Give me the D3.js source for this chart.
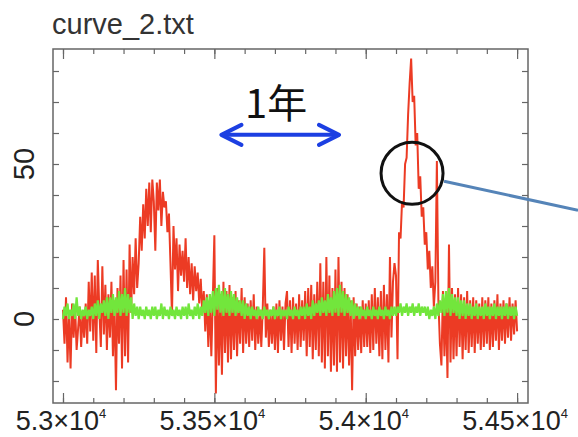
<!DOCTYPE html>
<html>
<head>
<meta charset="utf-8">
<script src="https://cdn.jsdelivr.net/npm/d3@7"></script>
<style>
  html, body { margin: 0; padding: 0; background: #fff; }
  svg { display: block; font-family: "Liberation Sans", Arial, sans-serif; }
</style>
</head>
<body>
<svg id="chart" width="578" height="437"></svg>
<script>
// Both curves are sampled every 5 days from MJD 53000
const startDay = 53000;
const stepDays = 5;

// red curve (10 samples per row = 50 days)
const redValues = [
    3, -8, 7, -14, 2, -16, 5, -6, 4, -10,
    -3, 4, -9, 2, -6, 5, -8, 12, -4, 15,
    -7, 14, -11, 19, 3, -9, 17, -5, 11, -10,
    8, -6, 12, -12, 6, -23, 10, -8, 14, -16,
    19, -12, 16, -14, 24, 2, 20, 8, 26, 10,
    18, 33, 22, 37, 26, 42, 30, 44, 28, 45,
    38, 22, 44, 35, 45, 30, 41, 36, 38, 28,
    34, 18, 1, 30, 16, 26, 9, 24, 14, 22,
    12, 26, 10, 20, 8, 18, 6, 17, 9, 15,
    5, 13, 2, 9, -4, 8, -9, 6, -12, 7,
    27, -24, 10, -15, 8, -18, 12, -11, 9, -14,
    11, -13, 7, -10, 9, -12, 6, -8, 10, -11,
    7, -8, 5, -9, 6, -7, 8, -10, 4, -8,
    3, -9, 4, 23, -6, 5, -9, 3, -8, 4,
    -10, 5, -11, 6, -7, 4, -10, 5, 9, -9,
    6, -11, 7, -8, 5, -10, 8, -9, 6, -7,
    9, -12, 10, -9, 11, -13, 8, -10, 12, -12,
    18, -14, 12, -16, 20, -12, 14, -17, 10, -15,
    16, -17, 20, -14, 12, -16, 10, -12, 8, -15,
    6, -23, 7, -12, 5, -10, 4, -11, 6, -9,
    5, -9, 6, -11, 8, -10, 10, -8, 7, -12,
    9, -13, 11, -10, 8, -14, 20, -6, 12, 18,
    14, -13, 28, 26, 38, 36, 50, 52, 66, 76,
    84, 70, 72, 56, 60, 42, 46, 33, 36, 24,
    28, 16, 22, 10, 17, 4, 12, 51, 6, -8,
    -15, 9, -12, 6, -19, 24, -14, 10, -13, 8,
    -12, 10, -9, 8, -13, 7, -10, 9, -11, 6,
    -9, 7, -11, 6, -8, 5, -10, 7, -9, 6,
    -8, 7, -10, 5, -9, 6, -7, 8, -10, 5,
    -7, 6, -8, 5, -6, 7, -7, 5, -5, 6,
    -4
];

// green curve, same sampling
const greenValues = [
    0, 4, 1, 5, 0, 3, 1, 5, 0, 7,
    1, 4, 0, 3, 1, 4, 0, 3, 1, 4,
    0, 5, 1, 6, 0, 5, 2, 6, 1, 7,
    0, 7, 2, 8, 1, 7, 2, 9, 1, 8,
    2, 10, 1, 8, 2, 7, 0, 5, 1, 4,
    0, 4, 1, 3, 0, 4, 1, 3, 0, 4,
    1, 4, 0, 3, 1, 5, 0, 4, 1, 3,
    0, 4, 1, 3, 0, 4, 1, 3, 0, 4,
    1, 4, 0, 5, 1, 3, 0, 4, 1, 5,
    0, 4, 1, 6, 2, 7, 1, 8, 2, 9,
    1, 10, 3, 11, 2, 9, 1, 10, 2, 8,
    1, 9, 2, 8, 1, 7, 2, 6, 1, 6,
    0, 5, 1, 4, 0, 4, 1, 3, 0, 4,
    1, 3, 0, 4, 1, 3, 0, 3, 1, 4,
    0, 3, 1, 4, 0, 3, 1, 3, 0, 4,
    1, 3, 0, 4, 1, 3, 0, 4, 1, 4,
    0, 5, 1, 4, 0, 6, 1, 5, 2, 6,
    1, 7, 2, 6, 1, 8, 2, 7, 1, 9,
    2, 10, 1, 11, 2, 9, 1, 8, 2, 7,
    1, 6, 0, 5, 1, 4, 0, 4, 1, 3,
    0, 4, 1, 3, 0, 4, 1, 3, 0, 4,
    1, 3, 0, 4, 1, 3, 0, 4, 1, 4,
    1, 4, 2, 5, 1, 4, 2, 5, 1, 4,
    2, 5, 1, 4, 2, 5, 1, 4, 2, 4,
    1, 4, 0, 3, 1, 4, 0, 5, 1, 6,
    2, 8, 1, 9, 2, 10, 1, 8, 2, 7,
    1, 7, 0, 6, 1, 6, 0, 5, 1, 5,
    0, 4, 1, 5, 0, 4, 1, 4, 0, 5,
    1, 4, 0, 4, 1, 5, 0, 4, 1, 4,
    0, 4, 1, 5, 0, 4, 1, 4, 0, 4,
    1
];

// axis ticks and labels
const xMajorTicks = [53000, 53500, 54000, 54500];
const xLabelMantissa = ["5.3", "5.35", "5.4", "5.45"];
const xLabelExponent = "4";
const yLabelTicks = [0, 50];
const titleText = "curve_2.txt";
const yearText = "1年";

// annotations in data units: one-year arrow and the circled peak
const yearArrow = { from: 53520, to: 53915, value: 59.4 };
const circleMark = { day: 54153, value: 47 };

// layout
const plot = { left: 53, top: 49, right: 528, bottom: 403 };

const svg = d3.select("#chart");

const x = d3.scaleLinear()
    .domain([52967, 54536])
    .range([plot.left, plot.right]);

const y = d3.scaleLinear()
    .domain([-27.1, 87.1])
    .range([plot.bottom, plot.top]);

const days = redValues.map((v, i) => startDay + i * stepDays);
const redData = redValues.map((v, i) => ({ day: days[i], value: v }));
const greenData = greenValues.map((v, i) => ({ day: days[i], value: v }));

const line = d3.line()
    .x(d => x(d.day))
    .y(d => y(d.value));

// curves: red first, green on top
svg.append("path")
    .datum(redData)
    .attr("fill", "none")
    .attr("stroke", "#ec3b24")
    .attr("stroke-width", 2.0)
    .attr("stroke-linejoin", "bevel")
    .attr("d", line);

svg.append("path")
    .datum(greenData)
    .attr("fill", "none")
    .attr("stroke", "#72e63c")
    .attr("stroke-width", 2.2)
    .attr("stroke-linejoin", "bevel")
    .attr("d", line);

// ticks on all four sides, pointing inward
const xMinor = d3.range(53000, 54501, 100);
const yMinor = d3.range(-20, 81, 10);
const axisColor = "#666";

function styleAxis(g) {
    g.select(".domain").remove();
    g.selectAll("line").attr("stroke", axisColor).attr("stroke-width", 1.2);
}

svg.append("g").attr("transform", `translate(0,${plot.bottom})`)
    .call(d3.axisBottom(x).tickValues(xMinor).tickSize(-5).tickFormat(""))
    .call(styleAxis);
svg.append("g").attr("transform", `translate(0,${plot.bottom})`)
    .call(d3.axisBottom(x).tickValues(xMajorTicks).tickSize(-10).tickFormat(""))
    .call(styleAxis);
svg.append("g").attr("transform", `translate(0,${plot.top})`)
    .call(d3.axisTop(x).tickValues(xMinor).tickSize(-5).tickFormat(""))
    .call(styleAxis);
svg.append("g").attr("transform", `translate(0,${plot.top})`)
    .call(d3.axisTop(x).tickValues(xMajorTicks).tickSize(-10).tickFormat(""))
    .call(styleAxis);
svg.append("g").attr("transform", `translate(${plot.left},0)`)
    .call(d3.axisLeft(y).tickValues(yMinor).tickSize(-6).tickFormat(""))
    .call(styleAxis);
svg.append("g").attr("transform", `translate(${plot.right},0)`)
    .call(d3.axisRight(y).tickValues(yMinor).tickSize(-6).tickFormat(""))
    .call(styleAxis);

// frame
svg.append("rect")
    .attr("x", plot.left)
    .attr("y", plot.top)
    .attr("width", plot.right - plot.left)
    .attr("height", plot.bottom - plot.top)
    .attr("fill", "none")
    .attr("stroke", axisColor)
    .attr("stroke-width", 1.5);

// x labels like 5.3x10^4
const xLabels = svg.append("g")
    .attr("fill", "#222")
    .attr("font-size", 27);

xMajorTicks.forEach((t, i) => {
    const txt = xLabels.append("text")
        .attr("x", x(t) - 2)
        .attr("y", 430)
        .attr("text-anchor", "middle");
    txt.append("tspan").text(xLabelMantissa[i] + "×10");
    txt.append("tspan")
        .attr("font-size", 13)
        .attr("dy", -12)
        .text(xLabelExponent);
});

// y labels, rotated
svg.append("g")
    .selectAll("text")
    .data(yLabelTicks)
    .enter()
    .append("text")
    .attr("transform", d => `translate(34,${y(d)}) rotate(-90)`)
    .attr("text-anchor", "middle")
    .attr("fill", "#222")
    .attr("font-size", 29)
    .text(d => d);

// title
svg.append("text")
    .attr("x", 52)
    .attr("y", 34)
    .attr("fill", "#333")
    .attr("font-size", 29)
    .text(titleText);

// "1 year" label and double arrow
svg.append("text")
    .attr("x", 245)
    .attr("y", 118)
    .attr("font-family", "'Noto Sans CJK JP', sans-serif")
    .attr("font-size", 40)
    .attr("fill", "#111")
    .text(yearText);

const ax0 = x(yearArrow.from);
const ax1 = x(yearArrow.to);
const ay = y(yearArrow.value);
const arrowBlue = "#1c3fe2";

svg.append("line")
    .attr("x1", ax0 + 2).attr("y1", ay)
    .attr("x2", ax1 - 2).attr("y2", ay)
    .attr("stroke", arrowBlue)
    .attr("stroke-width", 4);

svg.append("path")
    .attr("d", `M${ax0 + 21},${ay - 10} L${ax0 + 1},${ay} L${ax0 + 21},${ay + 10}` +
               `M${ax1 - 21},${ay - 10} L${ax1 - 1},${ay} L${ax1 - 21},${ay + 10}`)
    .attr("fill", "none")
    .attr("stroke", arrowBlue)
    .attr("stroke-width", 4)
    .attr("stroke-linecap", "round")
    .attr("stroke-linejoin", "round");

// circled peak with pointer line leaving to the right
const cx = x(circleMark.day);
const cy = y(circleMark.value);

svg.append("line")
    .attr("x1", cx + 32).attr("y1", cy + 8)
    .attr("x2", 578).attr("y2", cy + 37)
    .attr("stroke", "#5584b8")
    .attr("stroke-width", 3);

svg.append("circle")
    .attr("cx", cx)
    .attr("cy", cy)
    .attr("r", 31)
    .attr("fill", "none")
    .attr("stroke", "#111")
    .attr("stroke-width", 3);
</script>
</body>
</html>
